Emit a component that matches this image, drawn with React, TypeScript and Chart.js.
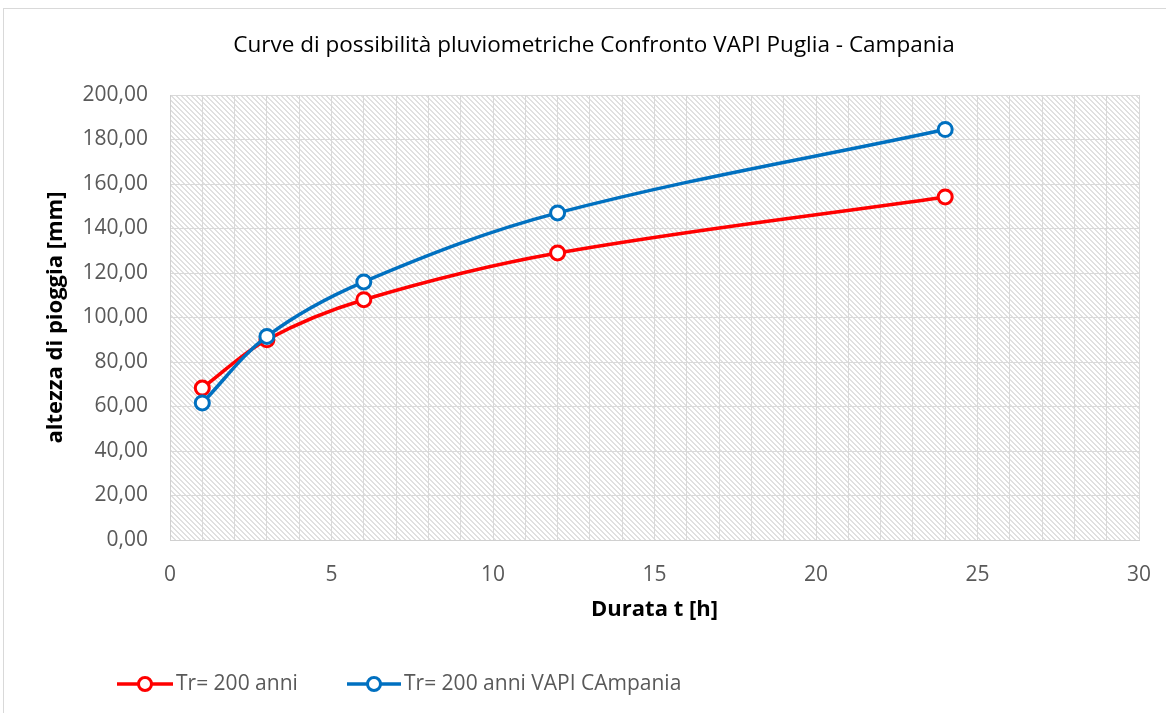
import React, { useEffect, useRef } from 'react';
import { Chart, registerables } from 'chart.js';

Chart.register(...registerables);

// ---- data ----
const durations = [1, 3, 6, 12, 24];
const pugliaValues = [68.3, 90.0, 108.0, 129.0, 154.2];
const campaniaValues = [61.6, 91.5, 116.0, 147.0, 184.5];
const seriesLabels = ['Tr= 200 anni', 'Tr= 200 anni VAPI CAmpania'];
const seriesColors = ['#ff0000', '#0070c0'];
const xTickLabels = [0, 5, 10, 15, 20, 25, 30];
const titleText = 'Curve di possibilità pluviometriche Confronto VAPI Puglia - Campania';
const xTitleText = 'Durata t [h]';
const yTitleText = 'altezza di pioggia [mm]';

const FONT = "'Open Sans', sans-serif";

function makePattern(): CanvasPattern | string {
  const tile = document.createElement('canvas');
  const p = 5;
  tile.width = p;
  tile.height = p;
  const c = tile.getContext('2d');
  if (!c) return '#f0f0f0';
  c.fillStyle = '#ffffff';
  c.fillRect(0, 0, p, p);
  c.fillStyle = '#e0e0e0';
  for (let y = 0; y < p; y++) {
    for (let x = 0; x < p; x++) {
      const m = (((x - y) % p) + p) % p;
      if (m < 2) c.fillRect(x, y, 1, 1);
    }
  }
  const ctx = document.createElement('canvas').getContext('2d');
  return (ctx && ctx.createPattern(tile, 'repeat')) || '#f0f0f0';
}

export default function App() {
  const ref = useRef<HTMLCanvasElement | null>(null);

  useEffect(() => {
    document.body.style.margin = '0';
    document.body.style.overflow = 'hidden';
    const canvas = ref.current;
    if (!canvas) return;
    const pattern = makePattern();

    const decor = {
      id: 'decor',
      beforeDraw(chart: any) {
        const { ctx, chartArea: a } = chart;
        ctx.save();
        ctx.fillStyle = '#ffffff';
        ctx.fillRect(0, 0, chart.width, chart.height);
        ctx.strokeStyle = '#d9d9d9';
        ctx.lineWidth = 1;
        ctx.strokeRect(3.5, 8.5, chart.width + 20, chart.height + 20);
        ctx.fillStyle = pattern;
        ctx.fillRect(a.left, a.top, a.right - a.left, a.bottom - a.top);
        ctx.restore();
      },
      afterDraw(chart: any) {
        const { ctx } = chart;
        ctx.save();
        // title
        ctx.fillStyle = '#000000';
        ctx.font = `22.5px ${FONT}`;
        ctx.textAlign = 'center';
        ctx.textBaseline = 'middle';
        ctx.fillText(titleText, 594, 46);
        // legend
        const items = [
          { x: 117, w: 56 },
          { x: 347, w: 54 },
        ];
        chart.data.datasets.forEach((ds: any, i: number) => {
          const it = items[i];
          const y = 684;
          ctx.strokeStyle = ds.borderColor;
          ctx.lineWidth = 3.5;
          ctx.beginPath();
          ctx.moveTo(it.x, y);
          ctx.lineTo(it.x + it.w, y);
          ctx.stroke();
          ctx.beginPath();
          ctx.arc(it.x + it.w / 2, y, 6.5, 0, Math.PI * 2);
          ctx.fillStyle = '#ffffff';
          ctx.fill();
          ctx.lineWidth = 3;
          ctx.stroke();
          ctx.fillStyle = '#595959';
          ctx.font = `21px ${FONT}`;
          ctx.textAlign = 'left';
          ctx.textBaseline = 'middle';
          ctx.fillText(ds.label, it.x + it.w + 3, y);
        });
        ctx.restore();
      },
    };

    const chart = new Chart(canvas, {
      type: 'line',
      data: {
        datasets: [
          {
            label: seriesLabels[0],
            data: durations.map((d, i) => ({ x: d, y: pugliaValues[i] })),
            borderColor: seriesColors[0],
            backgroundColor: '#ffffff',
            borderWidth: 3.5,
            pointRadius: 7,
            pointBorderWidth: 3,
            pointBackgroundColor: '#ffffff',
            pointBorderColor: seriesColors[0],
            tension: 0.35,
            order: 1,
          },
          {
            label: seriesLabels[1],
            data: durations.map((d, i) => ({ x: d, y: campaniaValues[i] })),
            borderColor: seriesColors[1],
            backgroundColor: '#ffffff',
            borderWidth: 3.5,
            pointRadius: 7,
            pointBorderWidth: 3,
            pointBackgroundColor: '#ffffff',
            pointBorderColor: seriesColors[1],
            tension: 0.35,
            order: 0,
          },
        ],
      },
      options: {
        animation: false,
        responsive: false,
        maintainAspectRatio: false,
        layout: { padding: { top: 95, right: 27, left: 0, bottom: 83 } },
        plugins: {
          legend: { display: false },
          title: { display: false },
          tooltip: { enabled: false },
        },
        scales: {
          x: {
            type: 'linear',
            min: 0,
            max: 30,
            afterFit: (s: any) => {
              s.height = 90;
              s.paddingRight = 0;
              s.paddingLeft = 0;
            },
            ticks: {
              stepSize: 1,
              autoSkip: false,
              maxRotation: 0,
              padding: 22,
              color: '#595959',
              font: { family: FONT, size: 21 },
              callback: (v: any) => (xTickLabels.includes(Number(v)) ? String(v) : ''),
            },
            grid: { color: '#d9d9d9', lineWidth: 1, drawTicks: false },
            border: { color: '#d0d0d0', width: 1 },
            title: {
              display: true,
              text: xTitleText,
              color: '#000000',
              font: { family: FONT, size: 22, weight: 'bold' },
              padding: { top: 0, bottom: 7 },
            },
          },
          y: {
            type: 'linear',
            min: 0,
            max: 200,
            afterFit: (s: any) => {
              s.width = 170;
            },
            ticks: {
              stepSize: 20,
              padding: 22,
              color: '#595959',
              font: { family: FONT, size: 21 },
              callback: (v: any) => Number(v).toFixed(2).replace('.', ','),
            },
            grid: { color: '#d9d9d9', lineWidth: 1, drawTicks: false },
            border: { color: '#d0d0d0', width: 1 },
            title: {
              display: true,
              text: yTitleText,
              color: '#000000',
              font: { family: FONT, size: 22, weight: 'bold' },
              padding: { top: 43, bottom: 0 },
            },
          },
        },
      },
      plugins: [decor],
    } as any);

    return () => chart.destroy();
  }, []);

  return (
    <div style={{ position: 'fixed', left: 0, top: 0, width: 1166, height: 713 }}>
      <canvas ref={ref} width={1166} height={713} style={{ display: 'block', width: 1166, height: 713 }} />
    </div>
  );
}
